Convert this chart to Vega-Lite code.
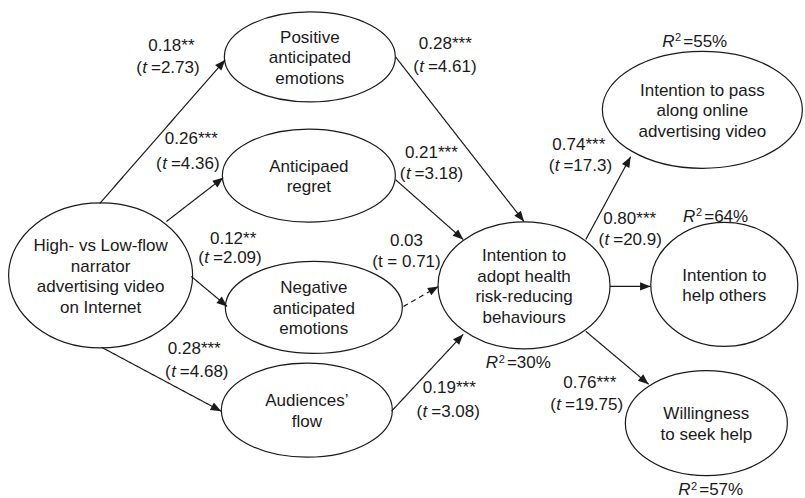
{
  "$schema": "https://vega.github.io/schema/vega-lite/v6.json",
  "width": 805,
  "height": 498,
  "autosize": {"type": "fit", "contains": "padding"},
  "padding": 0,
  "background": "white",
  "config": {"view": {"stroke": null}},
  "datasets": {
    "nodes": [
      {"node": "pos", "x": 311, "y": 57, "w": 171, "label": "Positive\nanticipated\nemotions"},
      {"node": "reg", "x": 310, "y": 176, "w": 173, "label": "Anticipaed\nregret"},
      {"node": "neg", "x": 315, "y": 308, "w": 177, "label": "Negative\nanticipated\nemotions"},
      {"node": "aud", "x": 308, "y": 411, "w": 171, "label": "Audiences’\nflow"},
      {"node": "high", "x": 101, "y": 276, "w": 184, "label": "High- vs Low-flow\nnarrator\nadvertising video\non Internet"},
      {"node": "adopt", "x": 526, "y": 286, "w": 172, "label": "Intention to\nadopt health\nrisk-reducing\nbehaviours"},
      {"node": "pass", "x": 705, "y": 110, "w": 200, "label": "Intention to pass\nalong online\nadvertising video"},
      {"node": "help", "x": 727, "y": 285, "w": 147, "label": "Intention to\nhelp others"},
      {"node": "will", "x": 709, "y": 424, "w": 162, "label": "Willingness\nto seek help"}
    ],
    "edges": [
      {"from": "high", "to": "pos", "x1": 100, "y1": 204, "x2": 226, "y2": 60, "sig": "yes"},
      {"from": "high", "to": "reg", "x1": 167, "y1": 222, "x2": 224, "y2": 178, "sig": "yes"},
      {"from": "high", "to": "neg", "x1": 192, "y1": 277, "x2": 228, "y2": 307, "sig": "yes"},
      {"from": "high", "to": "aud", "x1": 102, "y1": 348, "x2": 222, "y2": 412, "sig": "yes"},
      {"from": "pos", "to": "adopt", "x1": 397, "y1": 57, "x2": 526, "y2": 222, "sig": "yes"},
      {"from": "reg", "to": "adopt", "x1": 397, "y1": 180, "x2": 465, "y2": 240, "sig": "yes"},
      {"from": "neg", "to": "adopt", "x1": 405, "y1": 307, "x2": 440, "y2": 287, "sig": "no"},
      {"from": "aud", "to": "adopt", "x1": 393, "y1": 412, "x2": 465, "y2": 335, "sig": "yes"},
      {"from": "adopt", "to": "pass", "x1": 588, "y1": 240, "x2": 633, "y2": 157, "sig": "yes"},
      {"from": "adopt", "to": "help", "x1": 612, "y1": 287, "x2": 653, "y2": 287, "sig": "yes"},
      {"from": "adopt", "to": "will", "x1": 588, "y1": 332, "x2": 651, "y2": 385, "sig": "yes"}
    ],
    "coefs": [
      {"path": "high-pos", "coef": "0.18**", "x": 172, "y": 46},
      {"path": "high-reg", "coef": "0.26***", "x": 192, "y": 139},
      {"path": "high-neg", "coef": "0.12**", "x": 234, "y": 239},
      {"path": "high-aud", "coef": "0.28***", "x": 195, "y": 350},
      {"path": "pos-adopt", "coef": "0.28***", "x": 447, "y": 44},
      {"path": "reg-adopt", "coef": "0.21***", "x": 433, "y": 153},
      {"path": "neg-adopt", "coef": "0.03", "x": 408, "y": 241},
      {"path": "aud-adopt", "coef": "0.19***", "x": 451, "y": 389},
      {"path": "adopt-pass", "coef": "0.74***", "x": 581, "y": 145},
      {"path": "adopt-help", "coef": "0.80***", "x": 632, "y": 219},
      {"path": "adopt-will", "coef": "0.76***", "x": 592, "y": 384}
    ],
    "tvals": [
      {"path": "high-pos", "t": "2.73", "x": 145.2, "y": 68},
      {"path": "high-reg", "t": "4.36", "x": 165.2, "y": 164},
      {"path": "high-neg", "t": "2.09", "x": 207.5, "y": 259},
      {"path": "high-aud", "t": "4.68", "x": 174.2, "y": 373},
      {"path": "pos-adopt", "t": "4.61", "x": 423.2, "y": 67},
      {"path": "reg-adopt", "t": "3.18", "x": 409.8, "y": 174},
      {"path": "aud-adopt", "t": "3.08", "x": 426.5, "y": 413},
      {"path": "adopt-pass", "t": "17.3", "x": 559.2, "y": 166},
      {"path": "adopt-help", "t": "20.9", "x": 609.2, "y": 240},
      {"path": "adopt-will", "t": "19.75", "x": 560.8, "y": 406}
    ],
    "tplain": [
      {"path": "neg-adopt", "t": "(t = 0.71)", "x": 408, "y": 263}
    ],
    "r2": [
      {"node": "pass", "r2": "55%", "x": 677, "y": 42},
      {"node": "help", "r2": "64%", "x": 698, "y": 217},
      {"node": "adopt", "r2": "30%", "x": 500, "y": 364},
      {"node": "will", "r2": "57%", "x": 693, "y": 491}
    ]
  },
  "layer": [
    {
      "data": {"name": "edges"},
      "mark": {"type": "rule", "color": "#1a1a1a", "strokeWidth": 1.2},
      "encoding": {
        "x": {"field": "x1", "type": "quantitative", "scale": {"domain": [0, 805]}, "axis": null},
        "y": {"field": "y1", "type": "quantitative", "scale": {"domain": [0, 498], "reverse": true}, "axis": null},
        "x2": {"field": "x2"},
        "y2": {"field": "y2"},
        "strokeDash": {"field": "sig", "type": "nominal", "scale": {"domain": ["yes", "no"], "range": [[1, 0], [5, 4]]}, "legend": null}
      }
    },
    {
      "data": {"name": "edges"},
      "transform": [
        {"calculate": "(atan2(datum.y2 - datum.y1, datum.x2 - datum.x1) * 180 / PI + 360) % 360", "as": "angle"}
      ],
      "mark": {"type": "point", "shape": "M0,0L-1,-0.4L-1,0.4Z", "filled": true, "color": "#1a1a1a", "opacity": 1, "size": 441, "strokeWidth": 0},
      "encoding": {
        "x": {"field": "x2", "type": "quantitative", "scale": {"domain": [0, 805]}, "axis": null},
        "y": {"field": "y2", "type": "quantitative", "scale": {"domain": [0, 498], "reverse": true}, "axis": null},
        "angle": {"field": "angle", "type": "quantitative", "scale": null}
      }
    },
    {
      "data": {"name": "nodes"},
      "transform": [{"calculate": "datum.w * datum.w", "as": "area"}],
      "mark": {"type": "point", "filled": false, "stroke": "#1a1a1a", "strokeWidth": 1.2, "opacity": 1},
      "encoding": {
        "x": {"field": "x", "type": "quantitative", "scale": {"domain": [0, 805]}, "axis": null},
        "y": {"field": "y", "type": "quantitative", "scale": {"domain": [0, 498], "reverse": true}, "axis": null},
        "size": {"field": "area", "type": "quantitative", "scale": null},
        "shape": {
          "field": "node", "type": "nominal", "legend": null,
          "scale": {
            "domain": ["pos", "reg", "neg", "aud", "high", "adopt", "pass", "help", "will"],
            "range": [
              "M-1,0C-1,-0.291,-0.552,-0.526,0,-0.526C0.552,-0.526,1,-0.291,1,0C1,0.291,0.552,0.526,0,0.526C-0.552,0.526,-1,0.291,-1,0Z",
              "M-1,0C-1,-0.297,-0.552,-0.538,0,-0.538C0.552,-0.538,1,-0.297,1,0C1,0.297,0.552,0.538,0,0.538C-0.552,0.538,-1,0.297,-1,0Z",
              "M-1,0C-1,-0.287,-0.552,-0.520,0,-0.520C0.552,-0.520,1,-0.287,1,0C1,0.287,0.552,0.520,0,0.520C-0.552,0.520,-1,0.287,-1,0Z",
              "M-1,0C-1,-0.304,-0.552,-0.550,0,-0.550C0.552,-0.550,1,-0.304,1,0C1,0.304,0.552,0.550,0,0.550C-0.552,0.550,-1,0.304,-1,0Z",
              "M-1,0C-1,-0.435,-0.552,-0.788,0,-0.788C0.552,-0.788,1,-0.435,1,0C1,0.435,0.552,0.788,0,0.788C-0.552,0.788,-1,0.435,-1,0Z",
              "M-1,0C-1,-0.408,-0.552,-0.738,0,-0.738C0.552,-0.738,1,-0.408,1,0C1,0.408,0.552,0.738,0,0.738C-0.552,0.738,-1,0.408,-1,0Z",
              "M-1,0C-1,-0.323,-0.552,-0.585,0,-0.585C0.552,-0.585,1,-0.323,1,0C1,0.323,0.552,0.585,0,0.585C-0.552,0.585,-1,0.323,-1,0Z",
              "M-1,0C-1,-0.466,-0.552,-0.844,0,-0.844C0.552,-0.844,1,-0.466,1,0C1,0.466,0.552,0.844,0,0.844C-0.552,0.844,-1,0.466,-1,0Z",
              "M-1,0C-1,-0.358,-0.552,-0.648,0,-0.648C0.552,-0.648,1,-0.358,1,0C1,0.358,0.552,0.648,0,0.648C-0.552,0.648,-1,0.358,-1,0Z"
            ]
          }
        }
      }
    },
    {
      "data": {"name": "nodes"},
      "transform": [
        {"calculate": "datum.y + 1.5 - (split(datum.label, '\\n').length - 1) * 20.5 / 2", "as": "firstLineY"}
      ],
      "mark": {"type": "text", "font": "Liberation Sans", "fontSize": 17, "lineHeight": 20.5, "align": "center", "baseline": "middle", "lineBreak": "\n", "color": "#1a1a1a"},
      "encoding": {
        "x": {"field": "x", "type": "quantitative", "scale": {"domain": [0, 805]}, "axis": null},
        "y": {"field": "firstLineY", "type": "quantitative", "scale": {"domain": [0, 498], "reverse": true}, "axis": null},
        "text": {"field": "label"}
      }
    },
    {
      "data": {"name": "coefs"},
      "mark": {"type": "text", "font": "Liberation Sans", "fontSize": 17, "align": "center", "baseline": "middle", "color": "#1a1a1a"},
      "encoding": {
        "x": {"field": "x", "type": "quantitative", "scale": {"domain": [0, 805]}, "axis": null},
        "y": {"field": "y", "type": "quantitative", "scale": {"domain": [0, 498], "reverse": true}, "axis": null},
        "text": {"field": "coef"}
      }
    },
    {
      "data": {"name": "tvals"},
      "transform": [{"calculate": "'('", "as": "open"}],
      "mark": {"type": "text", "font": "Liberation Sans", "fontSize": 17, "align": "right", "baseline": "middle", "dx": -2.8, "color": "#1a1a1a"},
      "encoding": {
        "x": {"field": "x", "type": "quantitative", "scale": {"domain": [0, 805]}, "axis": null},
        "y": {"field": "y", "type": "quantitative", "scale": {"domain": [0, 498], "reverse": true}, "axis": null},
        "text": {"field": "open"}
      }
    },
    {
      "data": {"name": "tvals"},
      "transform": [{"calculate": "'t'", "as": "tchar"}],
      "mark": {"type": "text", "font": "Liberation Sans", "fontSize": 17, "fontStyle": "italic", "align": "center", "baseline": "middle", "color": "#1a1a1a"},
      "encoding": {
        "x": {"field": "x", "type": "quantitative", "scale": {"domain": [0, 805]}, "axis": null},
        "y": {"field": "y", "type": "quantitative", "scale": {"domain": [0, 498], "reverse": true}, "axis": null},
        "text": {"field": "tchar"}
      }
    },
    {
      "data": {"name": "tvals"},
      "transform": [{"calculate": "'=' + datum.t + ')'", "as": "rest"}],
      "mark": {"type": "text", "font": "Liberation Sans", "fontSize": 17, "align": "left", "baseline": "middle", "dx": 6.3, "color": "#1a1a1a"},
      "encoding": {
        "x": {"field": "x", "type": "quantitative", "scale": {"domain": [0, 805]}, "axis": null},
        "y": {"field": "y", "type": "quantitative", "scale": {"domain": [0, 498], "reverse": true}, "axis": null},
        "text": {"field": "rest"}
      }
    },
    {
      "data": {"name": "tplain"},
      "mark": {"type": "text", "font": "Liberation Sans", "fontSize": 17, "align": "center", "baseline": "middle", "color": "#1a1a1a"},
      "encoding": {
        "x": {"field": "x", "type": "quantitative", "scale": {"domain": [0, 805]}, "axis": null},
        "y": {"field": "y", "type": "quantitative", "scale": {"domain": [0, 498], "reverse": true}, "axis": null},
        "text": {"field": "t"}
      }
    },
    {
      "data": {"name": "r2"},
      "transform": [{"calculate": "'R'", "as": "rchar"}],
      "mark": {"type": "text", "font": "Liberation Sans", "fontSize": 17, "fontStyle": "italic", "align": "right", "baseline": "middle", "color": "#1a1a1a"},
      "encoding": {
        "x": {"field": "x", "type": "quantitative", "scale": {"domain": [0, 805]}, "axis": null},
        "y": {"field": "y", "type": "quantitative", "scale": {"domain": [0, 498], "reverse": true}, "axis": null},
        "text": {"field": "rchar"}
      }
    },
    {
      "data": {"name": "r2"},
      "transform": [{"calculate": "'2'", "as": "sup"}],
      "mark": {"type": "text", "font": "Liberation Sans", "fontSize": 11, "align": "left", "baseline": "middle", "dx": 0.5, "dy": -3.5, "color": "#1a1a1a"},
      "encoding": {
        "x": {"field": "x", "type": "quantitative", "scale": {"domain": [0, 805]}, "axis": null},
        "y": {"field": "y", "type": "quantitative", "scale": {"domain": [0, 498], "reverse": true}, "axis": null},
        "text": {"field": "sup"}
      }
    },
    {
      "data": {"name": "r2"},
      "transform": [{"calculate": "'=' + datum.r2", "as": "rest"}],
      "mark": {"type": "text", "font": "Liberation Sans", "fontSize": 17, "align": "left", "baseline": "middle", "dx": 8.8, "color": "#1a1a1a"},
      "encoding": {
        "x": {"field": "x", "type": "quantitative", "scale": {"domain": [0, 805]}, "axis": null},
        "y": {"field": "y", "type": "quantitative", "scale": {"domain": [0, 498], "reverse": true}, "axis": null},
        "text": {"field": "rest"}
      }
    }
  ]
}
